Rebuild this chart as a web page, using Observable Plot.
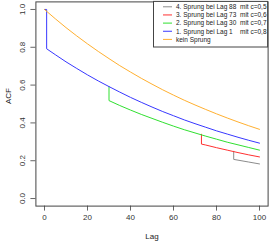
<!DOCTYPE html>
<html>
<head>
<meta charset="utf-8">
<script src="https://cdn.jsdelivr.net/npm/d3@7"></script>
<script src="https://cdn.jsdelivr.net/npm/@observablehq/plot@0.6"></script>
<style>
  html, body { margin: 0; padding: 0; background: #fff; }
  svg { display: block; font-family: "Liberation Sans", Arial, sans-serif; }
</style>
</head>
<body>
<div id="chart"></div>
<script>
// ---- data ----
const seriesNames = [
  "4. Sprung bei Lag 88  mit c=0,5",
  "3. Sprung bei Lag 73  mit c=0,6",
  "2. Sprung bei Lag 30  mit c=0,7",
  "1. Sprung bei Lag 1    mit c=0,8",
  "kein Sprung"
];
const seriesColors = ["#8c8c8c", "#ff3030", "#30e030", "#3838ff", "#ffb030"];

const lagsGray = [88, 88, 90, 95, 100];
const acfGray  = [0.250, 0.207, 0.203, 0.193, 0.183];

const lagsRed = [73, 73, 75, 80, 85, 90, 95, 100];
const acfRed  = [0.340, 0.288, 0.283, 0.269, 0.256, 0.243, 0.231, 0.220];

const lagsGreen = [30, 30, 35, 40, 45, 50, 55, 60, 65, 70, 75, 80, 85, 90, 95, 100];
const acfGreen  = [0.592, 0.518, 0.492, 0.468, 0.445, 0.424, 0.403, 0.383, 0.364, 0.347, 0.330, 0.314, 0.298, 0.284, 0.270, 0.256];

const lagsBlue = [0, 1, 1, 5, 10, 15, 20, 25, 30, 35, 40, 45, 50, 55, 60, 65, 70, 75, 80, 85, 90, 95, 100];
const acfBlue  = [1.000, 1.000, 0.792, 0.761, 0.723, 0.688, 0.654, 0.622, 0.592, 0.563, 0.535, 0.509, 0.484, 0.460, 0.438, 0.416, 0.396, 0.377, 0.358, 0.341, 0.324, 0.308, 0.293];

const lagsOrange = [0, 5, 10, 15, 20, 25, 30, 35, 40, 45, 50, 55, 60, 65, 70, 75, 80, 85, 90, 95, 100];
const acfOrange  = [1.000, 0.951, 0.904, 0.860, 0.818, 0.778, 0.740, 0.703, 0.669, 0.636, 0.605, 0.575, 0.547, 0.520, 0.495, 0.471, 0.448, 0.426, 0.405, 0.385, 0.366];

const xTicks = [0, 20, 40, 60, 80, 100];
const yTicks = [0, 0.2, 0.4, 0.6, 0.8, 1.0];
const yTickLabels = ["0.0", "0.2", "0.4", "0.6", "0.8", "1.0"];

// ---- build table ----
const seriesLags = [lagsGray, lagsRed, lagsGreen, lagsBlue, lagsOrange];
const seriesAcf  = [acfGray, acfRed, acfGreen, acfBlue, acfOrange];
const rows = [];
seriesLags.forEach((lags, s) => lags.forEach((lag, i) => rows.push({s, lag, acf: seriesAcf[s][i]})));

const W = 269, H = 244;
const chart = Plot.plot({
  width: W, height: H,
  marginLeft: 35.4, marginRight: 1.4, marginTop: 1.4, marginBottom: 38.4,
  style: {fontFamily: "Liberation Sans, Arial, sans-serif", fontSize: "8px", background: "#fff"},
  x: {domain: [-4, 104], axis: null},
  y: {domain: [-0.04, 1.04], axis: null},
  marks: [
    Plot.axisX({ticks: xTicks, tickSize: 5, tickPadding: 3, stroke: "#666", fill: "#333", fontSize: 8, label: null}),
    Plot.axisY({ticks: yTicks, tickSize: 5, tickFormat: () => "", stroke: "#666", label: null}),
    Plot.text(yTicks, {y: d => d, text: (d, i) => yTickLabels[i], frameAnchor: "left", dx: -13.5, rotate: -90, textAnchor: "middle", lineAnchor: "middle", fill: "#333", fontSize: 8}),
    Plot.text(["Lag"], {frameAnchor: "bottom", dy: 30.5, lineAnchor: "middle", fill: "#222", fontSize: 8}),
    Plot.text(["ACF"], {frameAnchor: "left", dx: -27.4, rotate: -90, lineAnchor: "middle", fill: "#222", fontSize: 8}),
    ...[0, 1, 2, 3, 4].map(s => Plot.line(rows.filter(r => r.s === s), {x: "lag", y: "acf", stroke: seriesColors[s], strokeWidth: 1})),
    Plot.frame({stroke: "#444", strokeWidth: 1})
  ]
});
document.getElementById("chart").appendChild(chart);

// ---- legend (top right, inside plot box) ----
const svg = d3.select(chart);
const lx0 = 153.5, ly0 = 1.4, lx1 = W - 1.4, ly1 = 47;
const lg = svg.append("g").attr("text-anchor", "start");
lg.append("rect").attr("x", lx0).attr("y", ly0).attr("width", lx1 - lx0).attr("height", ly1 - ly0)
  .attr("fill", "#fff").attr("stroke", "#444").attr("stroke-width", 1);
seriesNames.forEach((name, i) => {
  const yy = 6.8 + i * 8.15;
  lg.append("line").attr("x1", 163).attr("x2", 172).attr("y1", yy).attr("y2", yy)
    .attr("stroke", seriesColors[i]).attr("stroke-width", 1);
  lg.append("text").attr("x", 176).attr("y", yy).attr("dy", "0.35em")
    .attr("text-anchor", "start")
    .attr("font-size", 6.5).attr("fill", "#222").style("white-space", "pre").text(name);
});
</script>
</body>
</html>
